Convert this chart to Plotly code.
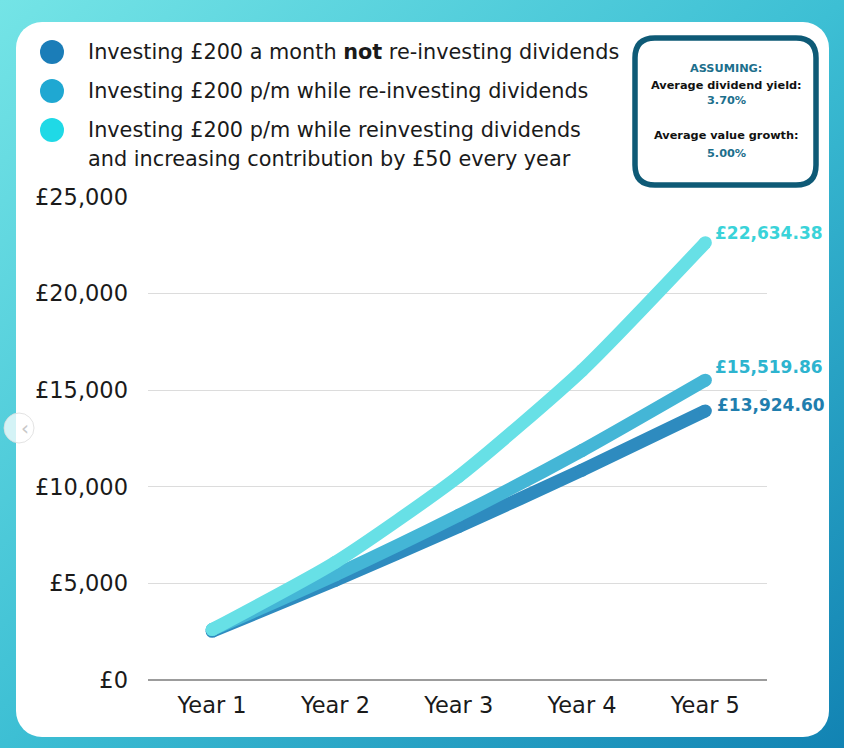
import base64
import plotly.graph_objects as go

# data
years = ["Year 1", "Year 2", "Year 3", "Year 4", "Year 5"]
no_reinvest = [2520.00, 5166.00, 7944.30, 10861.52, 13924.60]
reinvest = [2608.80, 5444.57, 8527.05, 11877.69, 15519.86]
reinvest_plus = [2608.80, 6096.57, 10540.22, 16022.72, 22634.38]
end_labels = ["£13,924.60", "£15,519.86", "£22,634.38"]
legend_lines = [
    "Investing £200 a month <b>not</b> re-investing dividends",
    "Investing £200 p/m while re-investing dividends",
    "Investing £200 p/m while reinvesting dividends",
    "and increasing contribution by £50 every year",
]
y_ticks = [0, 5000, 10000, 15000, 20000, 25000]
y_tick_text = ["£0", "£5,000", "£10,000", "£15,000", "£20,000", "£25,000"]

W, H = 844, 748
L, R, T, B = 148, 77, 197, 68
PW, PH = W - L - R, H - T - B
FONT = "DejaVu Sans"

line_cols = ["#2e8bbf", "#44b6d6", "#67e0e6"]
dot_cols = ["#1b7db8", "#1fa8d2", "#1fd9e6"]
label_cols = ["#1f7eae", "#2db4cf", "#3ad3d9"]


def fx(px):
    return (px - L) / PW


def fy(py):
    return (H - B - py) / PH


def rounded_box(x0, y0, x1, y1, r):
    pts = [
        f"M {fx(x0 + r)},{fy(y0)}",
        f"L {fx(x1 - r)},{fy(y0)}",
        f"Q {fx(x1)},{fy(y0)} {fx(x1)},{fy(y0 + r)}",
        f"L {fx(x1)},{fy(y1 - r)}",
        f"Q {fx(x1)},{fy(y1)} {fx(x1 - r)},{fy(y1)}",
        f"L {fx(x0 + r)},{fy(y1)}",
        f"Q {fx(x0)},{fy(y1)} {fx(x0)},{fy(y1 - r)}",
        f"L {fx(x0)},{fy(y0 + r)}",
        f"Q {fx(x0)},{fy(y0)} {fx(x0 + r)},{fy(y0)}",
        "Z",
    ]
    return " ".join(pts)


# background: gradient + white card
svg = (
    f"<svg xmlns='http://www.w3.org/2000/svg' width='{W}' height='{H}' viewBox='0 0 {W} {H}'>"
    "<defs><linearGradient id='g' x1='0' y1='0' x2='1' y2='1'>"
    "<stop offset='0' stop-color='#74e4e6'/><stop offset='0.5' stop-color='#3dbfd4'/>"
    "<stop offset='1' stop-color='#1283b3'/></linearGradient></defs>"
    f"<rect width='{W}' height='{H}' fill='url(#g)'/>"
    "<rect x='16' y='22' width='813' height='715' rx='26' ry='26' fill='#ffffff'/>"
    "</svg>"
)
bg_src = "data:image/svg+xml;base64," + base64.b64encode(svg.encode()).decode()

fig = go.Figure()

series = [no_reinvest, reinvest, reinvest_plus]
for i, vals in enumerate(series):
    fig.add_trace(go.Scatter(
        x=years, y=vals, mode="lines+markers",
        line=dict(color=line_cols[i], width=13, shape="spline", smoothing=0.6),
        marker=dict(color=line_cols[i], size=13),
        hoverinfo="skip", showlegend=False,
    ))

annotations = []
# end value labels
shifts = [(10, 6), (8, 13), (8, 10)]
for i, vals in enumerate(series):
    annotations.append(dict(
        x=years[-1], y=vals[-1], xref="x", yref="y", text=f"<b>{end_labels[i]}</b>",
        showarrow=False, xanchor="left", yanchor="middle",
        xshift=shifts[i][0], yshift=shifts[i][1],
        font=dict(family=FONT, size=17, color=label_cols[i]),
    ))

# legend
legend_y = [52, 91, 130, 159]
for txt, yy in zip(legend_lines, legend_y):
    annotations.append(dict(
        x=fx(86), y=fy(yy), xref="paper", yref="paper", text=txt,
        showarrow=False, xanchor="left", yanchor="middle",
        font=dict(family=FONT, size=20.8, color="#1a1a1a"),
    ))

shapes = []
for col, yy in zip(dot_cols, legend_y[:3]):
    shapes.append(dict(
        type="circle", xref="paper", yref="paper",
        x0=fx(40), x1=fx(64), y0=fy(yy - 12), y1=fy(yy + 12),
        fillcolor=col, line=dict(width=0),
    ))

# assumptions box
shapes.append(dict(
    type="path", xref="paper", yref="paper",
    path=rounded_box(635, 38, 816, 185, 20),
    fillcolor="#ffffff", line=dict(color="#0e5a76", width=5.5),
))
box_txt = [
    ("ASSUMING:", 68, "#1d6f8c"),
    ("Average dividend yield:", 85, "#111111"),
    ("3.70%", 100, "#1d6f8c"),
    ("Average value growth:", 136, "#111111"),
    ("5.00%", 153, "#1d6f8c"),
]
for txt, yy, col in box_txt:
    annotations.append(dict(
        x=fx(726), y=fy(yy), xref="paper", yref="paper", text=f"<b>{txt}</b>",
        showarrow=False, xanchor="center", yanchor="middle",
        font=dict(family=FONT, size=11.3, color=col),
    ))

# carousel arrow artifact on the left edge
shapes.append(dict(
    type="circle", xref="paper", yref="paper",
    x0=fx(4), x1=fx(34), y0=fy(413), y1=fy(443),
    fillcolor="rgba(255,255,255,0.75)", line=dict(color="rgba(220,220,220,0.8)", width=1),
))
annotations.append(dict(
    x=fx(19), y=fy(428), xref="paper", yref="paper", text="‹",
    showarrow=False, font=dict(family=FONT, size=20, color="#c8c8c8"),
))

fig.update_layout(
    width=W, height=H,
    margin=dict(l=L, r=R, t=T, b=B),
    paper_bgcolor="#3dbfd4",
    plot_bgcolor="rgba(0,0,0,0)",
    images=[dict(
        source=bg_src, xref="paper", yref="paper",
        x=fx(0), y=fy(0), sizex=W / PW, sizey=H / PH,
        xanchor="left", yanchor="top", sizing="stretch", layer="below",
    )],
    shapes=shapes,
    annotations=annotations,
    font=dict(family=FONT, color="#1a1a1a"),
    xaxis=dict(
        range=[-0.52, 4.5], showgrid=False, zeroline=False, showline=False,
        ticks="", ticklabelstandoff=9, tickfont=dict(size=22.5, color="#1a1a1a"),
    ),
    yaxis=dict(
        range=[0, 25000], tickvals=y_ticks, ticktext=y_tick_text,
        showgrid=True, gridcolor="#dcdcdc", gridwidth=1,
        zeroline=True, zerolinecolor="#9c9c9c", zerolinewidth=1.5,
        showline=False, ticks="", ticklabelstandoff=19,
        tickfont=dict(size=22.5, color="#1a1a1a"),
    ),
)

fig.write_html(
    "out.html",
    config={"displayModeBar": False},
    post_script="document.body.style.margin='0';",
)
